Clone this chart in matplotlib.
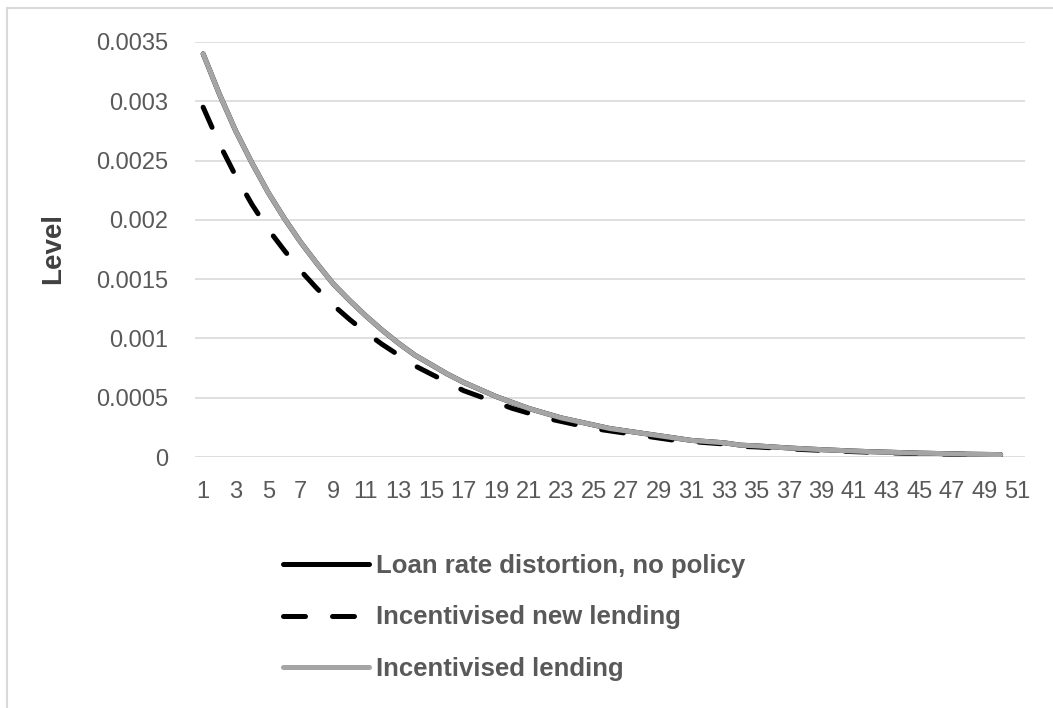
#!/usr/bin/env python3
# plot.py

import matplotlib
matplotlib.use("Agg")
import matplotlib.pyplot as plt
from matplotlib.lines import Line2D

periods = list(range(1, 51))
tick_labels = [str(i) for i in range(1, 52, 2)]

incentivised_lending = [
    0.00340, 0.00306, 0.00275, 0.00248, 0.00223, 0.00201, 0.00181, 0.00163, 0.00146, 0.00132,
    0.00119, 0.00107, 0.00096, 0.00086, 0.00078, 0.00070, 0.00063, 0.00057, 0.00051, 0.00046,
    0.00041, 0.00037, 0.00033, 0.00030, 0.00027, 0.00024, 0.00022, 0.00020, 0.00018, 0.00016,
    0.00014, 0.00013, 0.00012, 0.00010, 0.000094, 0.000085, 0.000076, 0.000069, 0.000062, 0.000056,
    0.000050, 0.000045, 0.000041, 0.000037, 0.000033, 0.000030, 0.000027, 0.000024, 0.000022, 0.000020,
]
no_policy = [
    0.00340, 0.00306, 0.00275, 0.00248, 0.00223, 0.00201, 0.00181, 0.00163, 0.00146, 0.00132,
    0.00119, 0.00107, 0.00096, 0.00086, 0.00078, 0.00070, 0.00063, 0.00057, 0.00051, 0.00046,
    0.00041, 0.00037, 0.00033, 0.00030, 0.00027, 0.00024, 0.00022, 0.00020, 0.00018, 0.00016,
    0.00014, 0.00013, 0.00012, 0.00010, 0.000094, 0.000085, 0.000076, 0.000069, 0.000062, 0.000056,
    0.000050, 0.000045, 0.000041, 0.000037, 0.000033, 0.000030, 0.000027, 0.000024, 0.000022, 0.000020,
]
new_lending = [
    0.00295, 0.00264, 0.00237, 0.00213, 0.00192, 0.00174, 0.00157, 0.00142, 0.00128, 0.00116,
    0.00105, 0.00095, 0.00086, 0.00077, 0.00070, 0.00063, 0.00056, 0.00051, 0.00046, 0.00041,
    0.00037, 0.00033, 0.00030, 0.00027, 0.00024, 0.00022, 0.00020, 0.00018, 0.00016, 0.00014,
    0.00013, 0.00012, 0.00011, 0.00009, 0.000085, 0.000077, 0.000069, 0.000062, 0.000056, 0.000050,
    0.000045, 0.000040, 0.000036, 0.000032, 0.000029, 0.000026, 0.000024, 0.000022, 0.000020, 0.000018,
]
y_ticks = [0, 0.0005, 0.001, 0.0015, 0.002, 0.0025, 0.003, 0.0035]
y_labels = ["0", "0.0005", "0.001", "0.0015", "0.002", "0.0025", "0.003", "0.0035"]

FONT = "Liberation Sans"
TXT = "#595959"


def main():
    fig = plt.figure(figsize=(10.53, 7.08), dpi=100)
    ax = fig.add_axes([195 / 1053, 1 - 457 / 708, 830 / 1053, 415 / 708])

    ax.plot(periods, no_policy, color="black", lw=3.6, solid_capstyle="round",
            label="Loan rate distortion, no policy")
    ax.plot(periods, new_lending, color="black", lw=3.6, dashes=(4.4, 5.4),
            dash_capstyle="round", label="Incentivised new lending")
    ax.plot(periods, incentivised_lending, color="#A5A5A5", lw=3.6,
            solid_capstyle="round", label="Incentivised lending")

    ax.set_xlim(0.5, 51.5)
    ax.set_ylim(0, 0.0035)
    ax.set_xticks(range(1, 52, 2))
    ax.set_xticklabels(tick_labels, fontsize=17, color=TXT, family=FONT)
    ax.set_yticks(y_ticks)
    ax.set_yticklabels(y_labels, fontsize=17, color=TXT, family=FONT)
    ax.tick_params(length=0)
    ax.tick_params(axis="x", pad=17)
    ax.tick_params(axis="y", pad=19)
    ax.grid(axis="y", color="#D9D9D9", lw=1.2)
    ax.set_axisbelow(True)
    for s in ax.spines.values():
        s.set_visible(False)

    ax.set_ylabel("Level", fontsize=20, fontweight="bold", color="#404040",
                  family=FONT)
    ax.yaxis.set_label_coords(-(195 - 66) / 830, (457 - 248) / 415)

    handles, labels = ax.get_legend_handles_labels()
    leg = fig.legend(handles, labels, loc="upper left",
                     bbox_to_anchor=(283 / 1053, 1 - 554 / 708),
                     frameon=False, borderpad=0, borderaxespad=0,
                     handlelength=3.35, handletextpad=0.25,
                     labelspacing=1.07,
                     prop={"family": FONT, "size": 18.5, "weight": "bold"})
    for t in leg.get_texts():
        t.set_color(TXT)

    # chart border (top and left edges visible)
    fig.add_artist(Line2D([7 / 1053, 1], [1 - 8 / 708, 1 - 8 / 708],
                          color="#D9D9D9", lw=1.5, transform=fig.transFigure))
    fig.add_artist(Line2D([7 / 1053, 7 / 1053], [0, 1 - 8 / 708],
                          color="#D9D9D9", lw=1.5, transform=fig.transFigure))

    fig.savefig("out.png", dpi=100)


if __name__ == "__main__":
    main()
